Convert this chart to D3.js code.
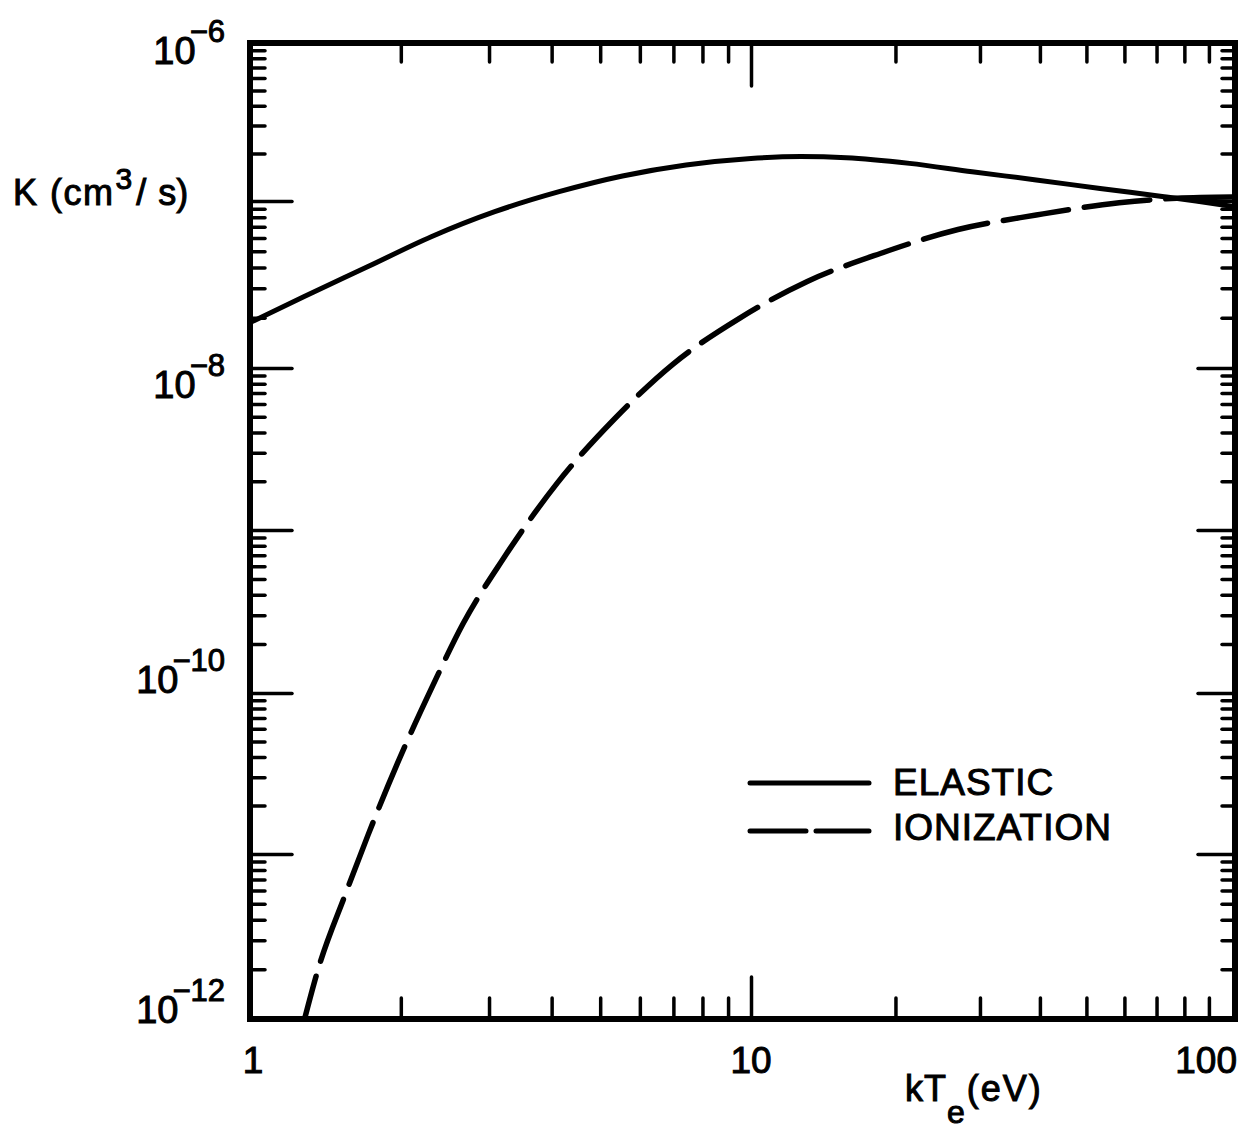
<!DOCTYPE html>
<html>
<head>
<meta charset="utf-8">
<script src="https://cdn.jsdelivr.net/npm/d3@7"></script>
<style>
  html, body { margin: 0; padding: 0; background: #fff; }
  svg { display: block; }
  text { font-family: "Liberation Sans", Arial, Helvetica, sans-serif; fill: #000; stroke: #000; stroke-width: 1px; }
</style>
</head>
<body>
<svg id="chart" width="1246" height="1129"></svg>
<script>
// Electron temperature kT_e (eV) and rate coefficient K (cm^3/s) for each process
const elasticKT = [1, 1.28, 1.72, 2.3, 3.08, 4.14, 5.54, 7.42, 10, 12.7, 15.8, 21.4, 28.9, 39.3, 53.4, 72.6, 84.6, 102];
const elasticK  = [1.87e-8, 2.67e-8, 4.05e-8, 6.11e-8, 8.63e-8, 1.145e-7, 1.44e-7, 1.69e-7, 1.86e-7, 1.91e-7, 1.88e-7, 1.73e-7, 1.53e-7, 1.36e-7, 1.2e-7, 1.065e-7, 1.0e-7, 9.24e-8];

const ionizationKT = [1.285, 1.37, 1.55, 1.72, 1.97, 2.31, 2.66, 3.2, 4.1, 5.35, 7.0, 9.5, 13.1, 18.6, 27.0, 39.3, 58.5, 77.1, 102];
const ionizationK  = [1e-12, 2.04e-12, 5.7e-12, 1.31e-11, 3.67e-11, 1.09e-10, 2.65e-10, 6.64e-10, 1.94e-9, 4.88e-9, 1.06e-8, 1.99e-8, 3.3e-8, 4.85e-8, 6.75e-8, 8.24e-8, 9.77e-8, 1.04e-7, 1.06e-7];

const seriesNames = ["ELASTIC", "IONIZATION"];

// Axis ticks and labels
const xTickLabels = [1, 10, 100];
const xMajorTicks = [10];
const xMinorTicks = [2, 3, 4, 5, 6, 7, 8, 9, 20, 30, 40, 50, 60, 70, 80, 90];
const yLabelExponents = [-6, -8, -10, -12];
const yMajorExponents = [-11, -10, -9, -8, -7];
const yDecadeExponents = [-12, -11, -10, -9, -8, -7];
const yMinorMantissas = [2, 3, 4, 5, 6, 7, 8, 9];

const svg = d3.select("#chart");

// Log scales (slightly uneven decades, as on the hand-drafted grid)
const x = d3.scaleLog().domain([1, 10, 102]).range([250, 751, 1235]);
const y = d3.scaleLog()
  .domain([1e-12, 1e-11, 1e-10, 1e-9, 1e-8, 1e-7, 1e-6])
  .range([1019, 854, 693, 530, 368, 201, 43]);

const xLo = x.domain()[0], xHi = x.domain()[2];
const yLo = 1e-12, yHi = 1e-6;
const pL = x(xLo), pR = x(xHi), pT = y(yHi), pB = y(yLo);

const yMinorTicks = yDecadeExponents.flatMap(e => yMinorMantissas.map(m => m * Math.pow(10, e)));
const yMajorTicks = yMajorExponents.map(e => Math.pow(10, e));

function ticks(axisFn, scale, values, size, tx, ty) {
  svg.append("g")
    .attr("transform", `translate(${tx},${ty})`)
    .call(axisFn(scale).tickValues(values).tickSizeInner(size).tickSizeOuter(0).tickFormat(""))
    .call(g => g.select(".domain").remove())
    .call(g => g.selectAll(".tick line")
      .attr("stroke", "#000").attr("stroke-width", 3.5).attr("stroke-linecap", "round"));
}

// inward-pointing ticks on all four sides
ticks(d3.axisBottom, x, xMinorTicks, -21, 0, pB);
ticks(d3.axisBottom, x, xMajorTicks, -42, 0, pB);
ticks(d3.axisTop, x, xMinorTicks, -19, 0, pT);
ticks(d3.axisTop, x, xMajorTicks, -43, 0, pT);
ticks(d3.axisLeft, y, yMinorTicks, -15, pL, 0);
ticks(d3.axisLeft, y, yMajorTicks, -42, pL, 0);
ticks(d3.axisRight, y, yMinorTicks, -13, pR, 0);
ticks(d3.axisRight, y, yMajorTicks, -37, pR, 0);

// plot frame
svg.append("rect")
  .attr("x", pL).attr("y", pT).attr("width", pR - pL).attr("height", pB - pT)
  .attr("fill", "none").attr("stroke", "#000").attr("stroke-width", 6);

// curves
svg.append("clipPath").attr("id", "plotClip")
  .append("rect").attr("x", pL).attr("y", pT).attr("width", pR - pL).attr("height", pB - pT);

const line = d3.line().x(d => x(d[0])).y(d => y(d[1])).curve(d3.curveMonotoneX);
const elastic = d3.zip(elasticKT, elasticK);
const ionization = d3.zip(ionizationKT, ionizationK);

const curves = svg.append("g").attr("clip-path", "url(#plotClip)");
curves.append("path").datum(elastic)
  .attr("d", line).attr("fill", "none").attr("stroke", "#000")
  .attr("stroke-width", 5).attr("stroke-linecap", "round");
curves.append("path").datum(ionization)
  .attr("d", line).attr("fill", "none").attr("stroke", "#000")
  .attr("stroke-width", 5.5).attr("stroke-linecap", "round")
  .attr("stroke-dasharray", "66 16").attr("stroke-dashoffset", 22);

// y tick labels: 10 with raised exponent
const yLabelNudge = { "-6": 21, "-8": 30, "-10": 0, "-12": 4 };
yLabelExponents.forEach(e => {
  const base = y(Math.pow(10, e)) + yLabelNudge[e];
  const ex = svg.append("text")
    .attr("x", 225).attr("y", base - 22).attr("text-anchor", "end")
    .attr("font-size", 31).text("\u2212" + Math.abs(e));
  const bb = ex.node().getBBox();
  svg.append("text")
    .attr("x", bb.x + 6).attr("y", base).attr("text-anchor", "end")
    .attr("font-size", 38).text("10");
});

// x tick labels
xTickLabels.forEach((v, i) => {
  const last = i === xTickLabels.length - 1;
  svg.append("text")
    .attr("x", last ? pR + 2 : x(v) + (i === 0 ? 3 : 0))
    .attr("y", 1073)
    .attr("text-anchor", last ? "end" : "middle")
    .attr("font-size", 37).text(v);
});

// y axis title: K (cm^3/s)
const yt = svg.append("text").attr("x", 13).attr("y", 205).attr("font-size", 36);
yt.append("tspan").attr("letter-spacing", 1.5).text("K (cm");
yt.append("tspan").attr("dx", 1).attr("dy", -16).attr("font-size", 30).text("3");
yt.append("tspan").attr("dx", 4).attr("dy", 16).attr("word-spacing", 2).text("/ s)");

// x axis title: kT_e (eV)
const xt = svg.append("text").attr("x", 905).attr("y", 1101).attr("font-size", 36);
xt.append("tspan").attr("letter-spacing", 1).text("kT");
xt.append("tspan").attr("dx", 0).attr("dy", 22).attr("font-size", 32).text("e");
xt.append("tspan").attr("dx", 2).attr("dy", -22).attr("letter-spacing", 2).text("(eV)");

// legend
const legend = svg.append("g");
const legendRows = [
  { name: seriesNames[0], y: 783, dash: null, ty: 795 },
  { name: seriesNames[1], y: 831, dash: "56 10", ty: 840 }
];
legendRows.forEach(r => {
  legend.append("line")
    .attr("x1", 750).attr("x2", 869).attr("y1", r.y).attr("y2", r.y)
    .attr("stroke", "#000").attr("stroke-width", 5).attr("stroke-linecap", "round")
    .attr("stroke-dasharray", r.dash);
  legend.append("text")
    .attr("x", 893).attr("y", r.ty).attr("font-size", 37).attr("letter-spacing", 1)
    .text(r.name);
});
</script>
</body>
</html>
